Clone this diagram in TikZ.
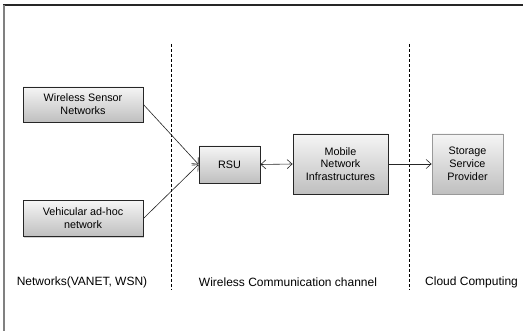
\documentclass[tikz,border=0pt]{standalone}
\usepackage{fontspec}
\setmainfont{Liberation Sans}
\usetikzlibrary{arrows.meta,shadows}
\colorlet{bxt}{gray!8}
\colorlet{bxb}{gray!50}
\colorlet{gln}{black!85}
\tikzset{
    blok/.style={draw=gln,thick,top color=bxt,bottom color=bxb,inner sep=0pt,
        align=center,font=\fontsize{10.8}{12.8}\selectfont,
        drop shadow={shadow xshift=1.2pt,shadow yshift=-1.2pt,opacity=0.35}},
    lbl/.style={font=\fontsize{12}{14}\selectfont,inner sep=0pt},
    sep/.style={black,thin,dash pattern=on 3pt off 2pt},
    barb/.tip={Straight Barb[length=5pt,width=9pt]},
    link/.style={gln,semithick,-barb},
    twin/.style={gln,semithick,barb-barb}
}

\begin{document}
\begin{tikzpicture}[x=1pt,y=-1pt]
        \useasboundingbox (0,0) rectangle (523,331);
        \draw [gln,line width=1.2pt] (3,5) -- (523,5);
        \draw [gray,line width=1.6pt] (4,5) -- (4,331);
        \foreach \x in {171,409} {
            \draw [sep] (\x,44) -- (\x,290);
        }
        \node [blok,minimum width=120,minimum height=35] (wsn) at (83,104.5)
            {Wireless Sensor\\Networks};
        \node [blok,minimum width=120,minimum height=36] (vanet) at (83,218.5)
            {Vehicular ad-hoc\\network};
        \node [blok,minimum width=61,minimum height=37] (rsu) at (229.5,164.5) {RSU};
        \node [blok,minimum width=95,minimum height=60] (mni) at (340.5,164)
            {Mobile\\Network\\Infrastructures};
        \node [blok,draw=gray!80,minimum width=71,minimum height=60] (ssp) at (467.5,164)
            {Storage\\Service\\Provider};
        \draw [link] (wsn.east) -- (rsu.west);
        \draw [link] (vanet.east) -- (rsu.west);
        \draw [twin] (rsu.east) -- (mni.west);
        \draw [link] (mni.east) -- (ssp.west);
        \node [lbl] (nw) at (82,282) {Networks(VANET, WSN)};
        \node [lbl] (wc) at (288,282) {Wireless Communication channel};
        \node [lbl,anchor=west] (cc) at (425,282) {Cloud Computing};
\end{tikzpicture}
\end{document}
